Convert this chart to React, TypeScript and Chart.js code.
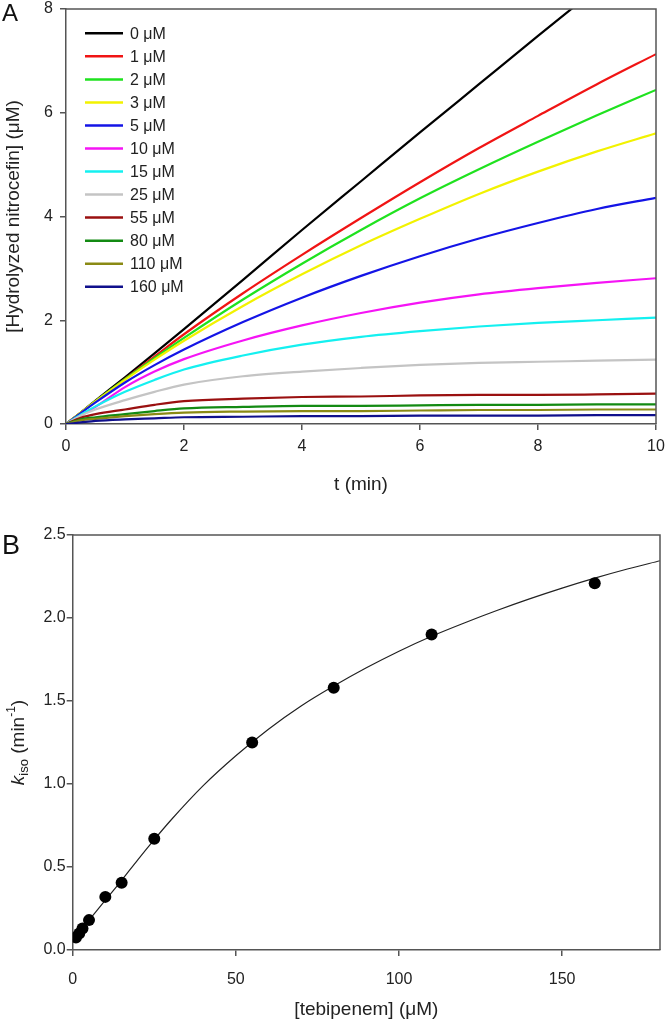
import React, { useEffect, useRef } from 'react';
import { Chart, registerables } from 'chart.js';

Chart.register(...registerables);

const FAM = '"Liberation Sans", Arial, Helvetica, sans-serif';
const TEXT = '#222222';
const AXIS = '#555555';

// ---------- Panel A: progress curves ----------
const TIME_MIN = [0, 0.25, 0.5, 1, 1.5, 2, 3, 4, 5, 6, 7, 8, 9, 10];

const CONC_LABELS = ['0 μM', '1 μM', '2 μM', '3 μM', '5 μM', '10 μM', '15 μM', '25 μM', '55 μM', '80 μM', '110 μM', '160 μM'];
const CONC_COLORS = ['#000000', '#f01414', '#1fe21f', '#f2f200', '#1414e6', '#f514f5', '#14f0f0', '#c4c4c4', '#9a1010', '#138a13', '#8a8a14', '#10108c'];

const P_0 = [0, 0.22, 0.45, 0.90, 1.36, 1.83, 2.78, 3.74, 4.68, 5.62, 6.55, 7.48, 8.40, 9.32];
const P_1 = [0, 0.22, 0.44, 0.87, 1.30, 1.73, 2.52, 3.26, 3.97, 4.66, 5.32, 5.94, 6.55, 7.13];
const P_2 = [0, 0.22, 0.44, 0.865, 1.27, 1.66, 2.40, 3.09, 3.74, 4.35, 4.91, 5.44, 5.95, 6.44];
const P_3 = [0, 0.22, 0.435, 0.85, 1.24, 1.605, 2.275, 2.885, 3.445, 3.955, 4.435, 4.865, 5.255, 5.605];
const P_5 = [0, 0.21, 0.415, 0.80, 1.135, 1.435, 1.965, 2.435, 2.855, 3.235, 3.575, 3.875, 4.145, 4.36];
const P_10 = [0, 0.17, 0.33, 0.71, 1.01, 1.25, 1.61, 1.90, 2.14, 2.34, 2.50, 2.62, 2.72, 2.81];
const P_15 = [0, 0.18, 0.34, 0.62, 0.85, 1.05, 1.32, 1.53, 1.68, 1.79, 1.88, 1.95, 2.00, 2.05];
const P_25 = [0, 0.16, 0.28, 0.46, 0.62, 0.76, 0.92, 1.01, 1.08, 1.14, 1.18, 1.20, 1.22, 1.24];
const P_55 = [0, 0.12, 0.19, 0.28, 0.37, 0.44, 0.49, 0.52, 0.53, 0.55, 0.56, 0.56, 0.57, 0.585];
const P_80 = [0, 0.09, 0.13, 0.19, 0.25, 0.30, 0.33, 0.35, 0.35, 0.36, 0.37, 0.37, 0.38, 0.38];
const P_110 = [0, 0.07, 0.10, 0.15, 0.19, 0.22, 0.24, 0.25, 0.25, 0.26, 0.27, 0.27, 0.28, 0.28];
const P_160 = [0, 0.03, 0.06, 0.09, 0.11, 0.13, 0.14, 0.15, 0.15, 0.16, 0.16, 0.16, 0.17, 0.17];

const PROGRESS = [P_0, P_1, P_2, P_3, P_5, P_10, P_15, P_25, P_55, P_80, P_110, P_160];

// ---------- Panel B: k_iso vs [tebipenem] ----------
const KISO_CONC = [1, 2, 3, 5, 10, 15, 25, 55, 80, 110, 160];
const KISO = [0.075, 0.10, 0.13, 0.18, 0.32, 0.405, 0.67, 1.25, 1.58, 1.90, 2.21];

const FIT_CONC = [0, 5, 10, 15, 20, 25, 30, 40, 50, 60, 70, 80, 90, 100, 110, 120, 130, 140, 150, 160, 170, 180];
const FIT_KISO = [0.06, 0.18, 0.30, 0.42, 0.545, 0.665, 0.78, 0.99, 1.17, 1.33, 1.47, 1.59, 1.70, 1.80, 1.89, 1.97, 2.045, 2.115, 2.18, 2.24, 2.295, 2.345];

const tickFont = { family: FAM, size: 16 };
const titleFont = { family: FAM, size: 19 };

const framePlugin = {
  id: 'frame',
  afterDraw(chart: any) {
    const { ctx, chartArea: ca } = chart;
    ctx.save();
    ctx.strokeStyle = AXIS;
    ctx.lineWidth = 1.5;
    ctx.beginPath();
    ctx.moveTo(ca.left, ca.top);
    ctx.lineTo(ca.right, ca.top);
    ctx.lineTo(ca.right, ca.bottom);
    ctx.stroke();
    ctx.restore();
  },
};

const panelLabel = (text: string, size: number, x: number, y: number) => ({
  id: 'panelLabel' + text,
  afterDraw(chart: any) {
    const ctx = chart.ctx;
    ctx.save();
    ctx.fillStyle = '#111';
    ctx.font = `${size}px ${FAM}`;
    ctx.textBaseline = 'middle';
    ctx.textAlign = 'left';
    ctx.fillText(text, x, y);
    ctx.restore();
  },
});

const legendA = {
  id: 'legendA',
  afterDraw(chart: any) {
    const { ctx, chartArea: ca } = chart;
    chart.data.datasets.forEach((ds: any, i: number) => {
      const y = ca.top + 24.3 + i * 23.04;
      ctx.save();
      ctx.strokeStyle = ds.borderColor;
      ctx.lineWidth = 2.5;
      ctx.beginPath();
      ctx.moveTo(ca.left + 19, y);
      ctx.lineTo(ca.left + 57, y);
      ctx.stroke();
      ctx.fillStyle = TEXT;
      ctx.font = `16px ${FAM}`;
      ctx.textBaseline = 'middle';
      ctx.textAlign = 'left';
      ctx.fillText(ds.label, ca.left + 64, y + 1);
      ctx.restore();
    });
  },
};

const kisoTitle = {
  id: 'kisoTitle',
  afterDraw(chart: any) {
    const { ctx, chartArea: ca } = chart;
    const segs = [
      { t: 'k', f: `italic 19px ${FAM}`, dy: 0 },
      { t: 'iso', f: `13px ${FAM}`, dy: 5 },
      { t: ' (min', f: `19px ${FAM}`, dy: 0 },
      { t: '-1', f: `12px ${FAM}`, dy: -7 },
      { t: ')', f: `19px ${FAM}`, dy: 0 },
    ];
    ctx.save();
    let total = 0;
    const widths = segs.map((s) => {
      ctx.font = s.f;
      const w = ctx.measureText(s.t).width;
      total += w;
      return w;
    });
    ctx.translate(19, (ca.top + ca.bottom) / 2);
    ctx.rotate(-Math.PI / 2);
    ctx.fillStyle = TEXT;
    ctx.textBaseline = 'middle';
    ctx.textAlign = 'left';
    let x = -total / 2;
    segs.forEach((s, i) => {
      ctx.font = s.f;
      ctx.fillText(s.t, x, s.dy);
      x += widths[i];
    });
    ctx.restore();
  },
};

function fixSize(prop: 'width' | 'height', value: number) {
  return (s: any) => {
    s[prop] = value;
    s.paddingTop = 0;
    s.paddingBottom = 0;
    s.paddingLeft = 0;
    s.paddingRight = 0;
  };
}

function baseAxis(extra: any) {
  return {
    type: 'linear',
    grid: { drawOnChartArea: false, drawTicks: true, tickLength: 6, color: AXIS, tickColor: AXIS, lineWidth: 1.5 },
    border: { display: true, color: AXIS, width: 1.5 },
    ...extra,
  };
}

export default function App() {
  const refA = useRef<HTMLCanvasElement>(null);
  const refB = useRef<HTMLCanvasElement>(null);

  useEffect(() => {
    document.body.style.margin = '0';
    const chartA = new Chart(refA.current as HTMLCanvasElement, {
      type: 'line',
      data: {
        datasets: PROGRESS.map((vals, k) => ({
          label: CONC_LABELS[k],
          data: TIME_MIN.map((t, i) => ({ x: t, y: vals[i] })),
          borderColor: CONC_COLORS[k],
          backgroundColor: CONC_COLORS[k],
          borderWidth: 2.2,
          pointRadius: 0,
          fill: false,
          cubicInterpolationMode: 'monotone',
          order: PROGRESS.length - k,
        })),
      },
      options: {
        responsive: false,
        animation: false,
        devicePixelRatio: 1,
        layout: { padding: { left: 0, right: 10, top: 9, bottom: 0 } },
        plugins: { legend: { display: false }, tooltip: { enabled: false }, title: { display: false } },
        scales: {
          x: baseAxis({
            min: 0,
            max: 10,
            ticks: { stepSize: 2, font: tickFont, color: TEXT, padding: 7, maxRotation: 0 },
            title: { display: true, text: 't (min)', font: titleFont, color: TEXT, padding: { top: 0, bottom: 3.6 } },
            afterFit: fixSize('height', 76),
          }),
          y: baseAxis({
            min: 0,
            max: 8,
            ticks: { stepSize: 2, font: tickFont, color: TEXT, padding: 7 },
            title: { display: true, text: '[Hydrolyzed nitrocefin] (μM)', font: titleFont, color: TEXT, padding: { top: 2, bottom: 0 } },
            afterFit: fixSize('width', 66),
          }),
        },
      } as any,
      plugins: [framePlugin, legendA, panelLabel('A', 24, 2, 14)],
    });

    const chartB = new Chart(refB.current as HTMLCanvasElement, {
      type: 'scatter',
      data: {
        datasets: [
          {
            label: 'k_iso',
            data: KISO_CONC.map((c, i) => ({ x: c, y: KISO[i] })),
            backgroundColor: '#000',
            borderColor: '#000',
            pointRadius: 6,
            borderWidth: 0,
            showLine: false,
          },
          {
            label: 'fit',
            data: FIT_CONC.map((c, i) => ({ x: c, y: FIT_KISO[i] })),
            borderColor: '#222',
            backgroundColor: '#222',
            borderWidth: 1.2,
            pointRadius: 0,
            showLine: true,
            cubicInterpolationMode: 'monotone',
          },
        ],
      },
      options: {
        responsive: false,
        animation: false,
        devicePixelRatio: 1,
        layout: { padding: { left: 0, right: 3.3, top: 35, bottom: 0 } },
        plugins: { legend: { display: false }, tooltip: { enabled: false }, title: { display: false } },
        scales: {
          x: baseAxis({
            min: 0,
            max: 180,
            ticks: { stepSize: 50, font: tickFont, color: TEXT, padding: 14, maxRotation: 0 },
            afterBuildTicks: (s: any) => {
              s.ticks = s.ticks.filter((t: any) => t.value % 50 === 0);
            },
            title: { display: true, text: '[tebipenem] (μM)', font: titleFont, color: TEXT, padding: { top: 0, bottom: 1 } },
            afterFit: fixSize('height', 72),
          }),
          y: baseAxis({
            min: 0,
            max: 2.5,
            ticks: { stepSize: 0.5, font: tickFont, color: TEXT, padding: 1, callback: (v: any) => Number(v).toFixed(1) },
            afterFit: fixSize('width', 72.7),
          }),
        },
      } as any,
      plugins: [framePlugin, kisoTitle, panelLabel('B', 27, 2, 47)],
    });

    return () => {
      chartA.destroy();
      chartB.destroy();
    };
  }, []);

  return (
    <div style={{ position: 'absolute', left: 0, top: 0, width: 666, height: 1022, background: '#fff' }}>
      <canvas ref={refA} width={666} height={500} style={{ display: 'block', width: 666, height: 500 }} />
      <canvas ref={refB} width={666} height={522} style={{ display: 'block', width: 666, height: 522 }} />
    </div>
  );
}
